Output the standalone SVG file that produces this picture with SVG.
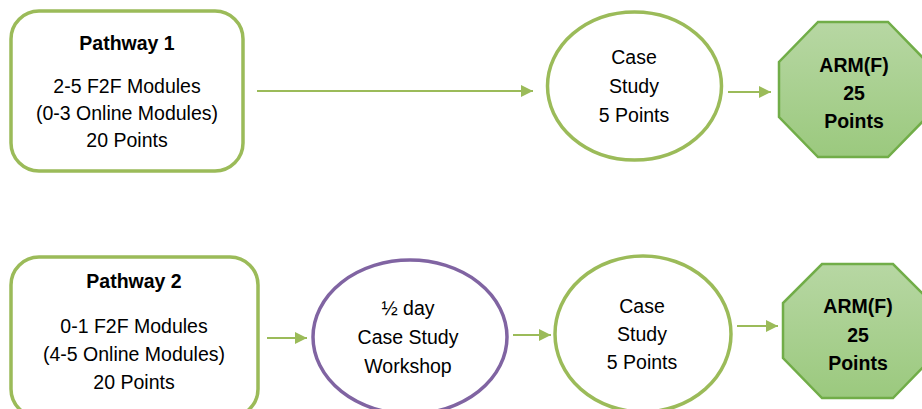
<svg xmlns="http://www.w3.org/2000/svg" width="922" height="409" viewBox="0 0 922 409">
  <style>
    .box { fill: #ffffff; stroke: #9bbb59; stroke-width: 3.5; }
    .oval { fill: #ffffff; stroke: #9bbb59; stroke-width: 3.5; }
    .oval-purple { fill: #ffffff; stroke: #8064a2; stroke-width: 3.5; }
    .oct { fill: url(#octFill); stroke: #71ad48; stroke-width: 2.5; stroke-linejoin: miter; }
    .link { fill: none; stroke: #9bbb59; stroke-width: 2; marker-end: url(#arrow); }
    text { font-family: "Liberation Sans", Arial, sans-serif; font-size: 19.5px; fill: #000000; text-anchor: middle; }
    .bold { font-weight: bold; }
  </style>
  <defs>
    <linearGradient id="octFill" x1="0" y1="0" x2="0" y2="1">
      <stop offset="0" stop-color="#b7d7a3"/>
      <stop offset="1" stop-color="#9bc97e"/>
    </linearGradient>
    <marker id="arrow" markerUnits="userSpaceOnUse" markerWidth="13" markerHeight="14" refX="12" refY="7" orient="auto">
      <path d="M0,1 L12,7 L0,13 z" fill="#9bbb59"/>
    </marker>
  </defs>

  <!-- connectors -->
  <g id="connectors">
    <line class="link" x1="257" y1="91" x2="533" y2="91"/>
    <line class="link" x1="728" y1="92" x2="771" y2="92"/>
    <line class="link" x1="267" y1="338" x2="307" y2="338"/>
    <line class="link" x1="513" y1="335" x2="551" y2="335"/>
    <line class="link" x1="737" y1="326" x2="778" y2="326"/>
  </g>

  <!-- pathway 1 -->
  <g id="pathway1">
    <rect class="box" x="11" y="11" width="232" height="160" rx="28" ry="28"/>
    <text class="bold" x="127" y="50">Pathway 1</text>
    <text x="127" y="93">2-5 F2F Modules</text>
    <text x="127" y="120">(0-3 Online Modules)</text>
    <text x="127" y="147">20 Points</text>
  </g>

  <g id="case-study-1">
    <ellipse class="oval" cx="634.5" cy="86" rx="87" ry="74"/>
    <text x="634" y="64">Case</text>
    <text x="634" y="93">Study</text>
    <text x="634" y="122">5 Points</text>
  </g>

  <g id="arm-1">
    <polygon class="oct" points="818,22 888,22 927,62 927,117 888,157 818,157 779,117 779,62"/>
    <text class="bold" x="854" y="72">ARM(F)</text>
    <text class="bold" x="854" y="100">25</text>
    <text class="bold" x="854" y="128">Points</text>
  </g>

  <!-- pathway 2 -->
  <g id="pathway2">
    <rect class="box" x="11" y="257" width="247" height="160" rx="28" ry="28"/>
    <text class="bold" x="134" y="288">Pathway 2</text>
    <text x="134" y="333">0-1 F2F Modules</text>
    <text x="134" y="361">(4-5 Online Modules)</text>
    <text x="134" y="389">20 Points</text>
  </g>

  <g id="workshop">
    <ellipse class="oval-purple" cx="410" cy="337" rx="97" ry="77"/>
    <text x="408" y="315">½ day</text>
    <text x="408" y="344">Case Study</text>
    <text x="408" y="373">Workshop</text>
  </g>

  <g id="case-study-2">
    <ellipse class="oval" cx="643" cy="334" rx="88" ry="78"/>
    <text x="642" y="313">Case</text>
    <text x="642" y="341">Study</text>
    <text x="642" y="369">5 Points</text>
  </g>

  <g id="arm-2">
    <polygon class="oct" points="822,264 893,264 932,303 932,358 893,398 822,398 783,358 783,303"/>
    <text class="bold" x="858" y="313">ARM(F)</text>
    <text class="bold" x="858" y="342">25</text>
    <text class="bold" x="858" y="370">Points</text>
  </g>
</svg>
